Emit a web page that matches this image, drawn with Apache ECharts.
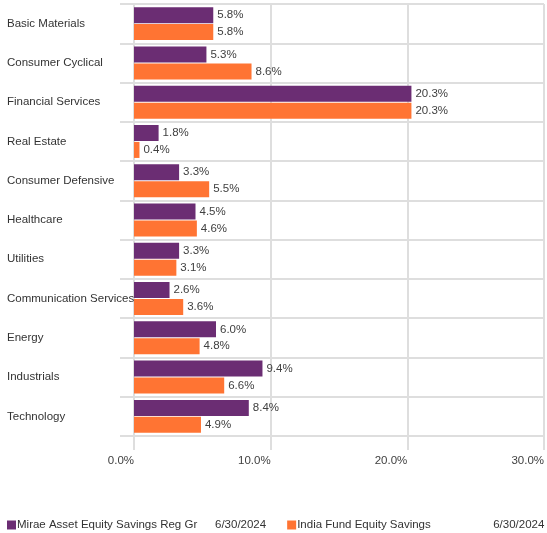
<!DOCTYPE html>
<html>
<head>
<meta charset="utf-8">
<script src="https://cdn.jsdelivr.net/npm/echarts@6/dist/echarts.min.js"></script>
<style>
  html, body { margin: 0; padding: 0; background: #fff; }
  #chart { width: 547px; height: 533px; }
</style>
</head>
<body>
<div id="chart"></div>
<script>
// sectors, top to bottom
var sectors = ['Basic Materials', 'Consumer Cyclical', 'Financial Services', 'Real Estate',
    'Consumer Defensive', 'Healthcare', 'Utilities', 'Communication Services',
    'Energy', 'Industrials', 'Technology'];
var fundName = 'Mirae Asset Equity Savings Reg Gr';
var catName = 'India Fund Equity Savings';
var asOfDate = '6/30/2024';
var fundValues = [5.8, 5.3, 20.3, 1.8, 3.3, 4.5, 3.3, 2.6, 6.0, 9.4, 8.4];
var catValues = [5.8, 8.6, 20.3, 0.4, 5.5, 4.6, 3.1, 3.6, 4.8, 6.6, 4.9];

var font = "'Liberation Sans', Arial, sans-serif";
var fs = 11.5;
var gridColor = '#dedede';

var myChart = echarts.init(document.getElementById('chart'));

function barLabel() {
    return {
        show: true,
        position: 'right',
        distance: 4,
        color: '#404040',
        fontFamily: font,
        fontSize: fs,
        formatter: function (p) { return p.value.toFixed(1) + '%'; }
    };
}

var option = {
    animation: false,
    textStyle: { fontFamily: font },
    grid: { left: 134, right: 2, top: 4, bottom: 97 },
    xAxis: {
        type: 'value',
        min: 0,
        max: 30,
        interval: 10,
        axisLine: { show: false },
        axisTick: { show: true, length: 14, lineStyle: { color: gridColor, width: 2 } },
        splitLine: { show: true, lineStyle: { color: gridColor, width: 2 } },
        axisLabel: {
            margin: 19,
            align: 'right',
            color: '#404040',
            fontFamily: font,
            fontSize: fs,
            formatter: function (v) { return v.toFixed(1) + '%'; }
        }
    },
    yAxis: {
        type: 'category',
        inverse: true,
        data: sectors,
        axisLine: { show: false },
        axisTick: { show: true, length: 14, lineStyle: { color: gridColor, width: 2 } },
        splitLine: { show: true, lineStyle: { color: gridColor, width: 2 } },
        axisLabel: {
            margin: 127,
            align: 'left',
            color: '#333',
            fontFamily: font,
            fontSize: fs
        }
    },
    legend: {
        left: 7,
        top: 519,
        padding: 0,
        itemWidth: 9,
        itemHeight: 9,
        itemGap: 21,
        icon: 'rect',
        data: [fundName, catName],
        formatter: function (name) {
            if (name === fundName) return '{n1|' + name + '}{d1|' + asOfDate + '}';
            return '{n2|' + name + '}{d2|' + asOfDate + '}';
        },
        textStyle: {
            padding: [0, 0, 0, -4],
            rich: {
                n1: { width: 198, color: '#333', fontFamily: font, fontSize: fs },
                d1: { color: '#333', fontFamily: font, fontSize: fs },
                n2: { width: 196, color: '#333', fontFamily: font, fontSize: fs },
                d2: { color: '#333', fontFamily: font, fontSize: fs }
            }
        }
    },
    series: [
        {
            name: fundName,
            type: 'bar',
            data: fundValues,
            barWidth: 16,
            barGap: '6%',
            itemStyle: { color: '#6b2d73' },
            label: barLabel()
        },
        {
            name: catName,
            type: 'bar',
            data: catValues,
            barWidth: 16,
            itemStyle: { color: '#ff7433' },
            label: barLabel()
        }
    ]
};

myChart.setOption(option);
</script>
</body>
</html>
